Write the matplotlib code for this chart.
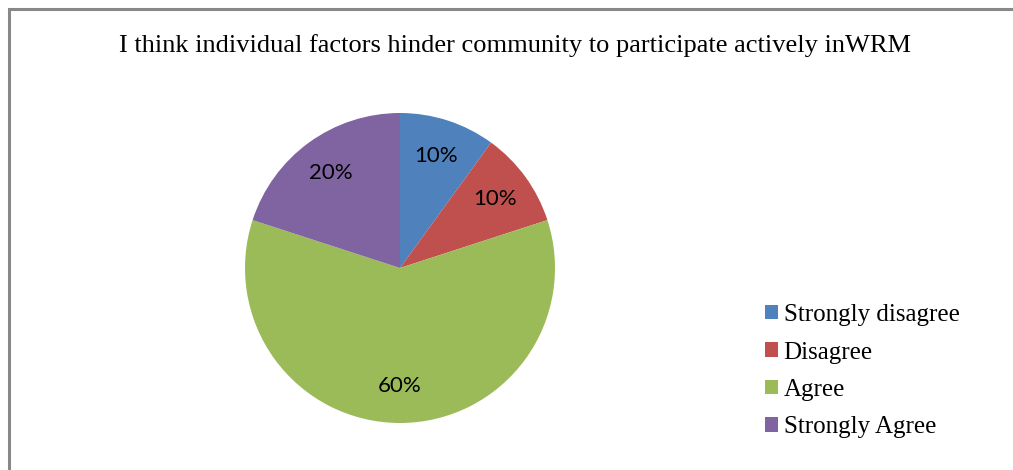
import matplotlib
matplotlib.use("Agg")
import matplotlib.pyplot as plt
from matplotlib.patches import Rectangle, Patch

# survey responses
categories = ["Strongly disagree", "Disagree", "Agree", "Strongly Agree"]
shares = [10, 10, 60, 20]
colors = ["#4F81BD", "#C0504D", "#9BBB59", "#8064A2"]
title = "I think individual factors hinder community to participate actively inWRM"

W, H = 1013, 470
fig = plt.figure(figsize=(W / 100, H / 100), dpi=100)

# chart frame (only left/top edges fall inside the canvas)
fig.patches.append(Rectangle((9 / W, -0.1), 1.2, (H - 9) / H + 0.1,
                             transform=fig.transFigure, fill=False,
                             edgecolor="#888888", linewidth=2.2))

ax = fig.add_axes([245 / W, 47 / H, 310 / W, 310 / H])
wedges, _, autotexts = ax.pie(shares, colors=colors, startangle=90, counterclock=False,
                              autopct="%d%%", pctdistance=0.76, radius=1.0,
                              textprops=dict(family="Lato", fontsize=16, color="black"))
ax.set_xlim(-1, 1)
ax.set_ylim(-1, 1)
ax.set_aspect("equal")
ax.axis("off")

fig.text(515 / W, 1 - 46 / H, title, ha="center", va="center",
         family="Liberation Serif", fontsize=19)

handles = [Patch(facecolor=c, edgecolor="none") for c in colors]
fig.legend(handles, categories, loc="upper left", bbox_to_anchor=(755 / W, 1 - 294 / H),
           frameon=False, prop=dict(family="Liberation Serif", size=18),
           handlelength=0.52, handleheight=0.52, handletextpad=0.22, labelspacing=0.62,
           borderaxespad=0)

fig.savefig("out.png", dpi=100)
